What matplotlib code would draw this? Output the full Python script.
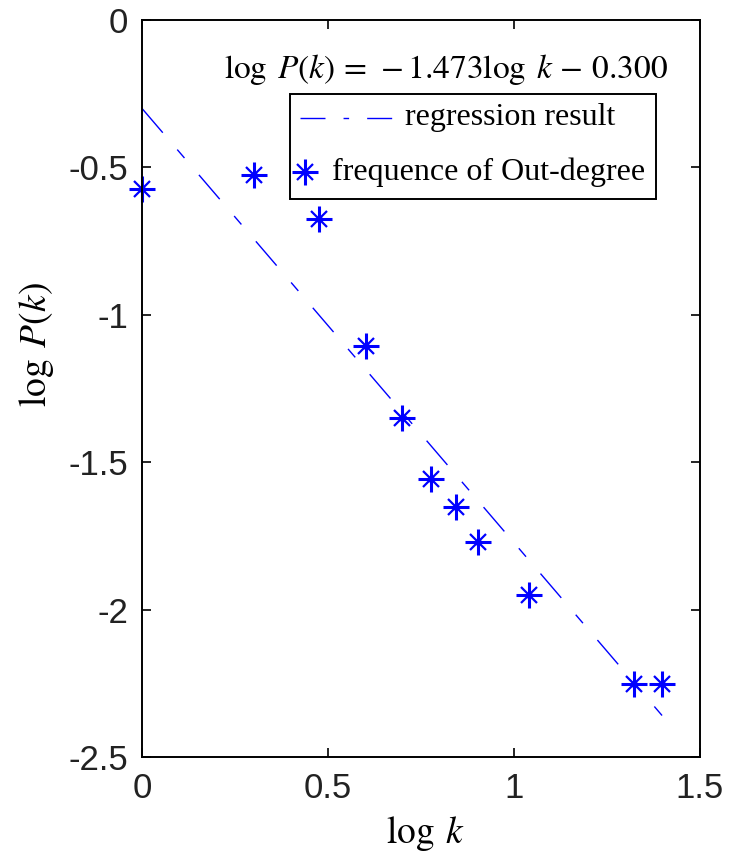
import numpy as np
import matplotlib.pyplot as plt
from matplotlib.lines import Line2D
from matplotlib.patches import Rectangle

# Data (log10 of degree k vs log10 of frequency)
log_k = [0.0, 0.301, 0.477, 0.602, 0.699, 0.778, 0.845, 0.903, 1.041, 1.322, 1.398]
log_p = [-0.574, -0.526, -0.675, -1.106, -1.350, -1.557, -1.651, -1.772, -1.950, -2.251, -2.251]

# Regression result shown in the annotation
slope = -1.473
intercept = -0.300
fit_x = np.array([0.0, 1.398])
fit_y = intercept + slope * fit_x

plt.rcParams['mathtext.fontset'] = 'stix'
plt.rcParams['lines.scale_dashes'] = False
serif = 'Liberation Serif'
W, H = 729, 860


def px(x, y):
    # pixel position (from top-left) -> figure fraction
    return x / W, 1 - y / H


fig = plt.figure(figsize=(W / 100, H / 100), dpi=100)
ax = fig.add_axes([142 / W, 1 - 757 / H, 558 / W, 737 / H])

ax.plot(fit_x, fit_y, color='blue', linewidth=1.0, dashes=(23, 16, 8, 16))
for mk, ms, mew in [('+', 19, 2.2), ('x', 11, 1.6), ('o', 5, 0)]:
    ax.plot(log_k, log_p, linestyle='none', marker=mk, color='blue',
            markersize=ms, markeredgewidth=mew, clip_on=False)

ax.set_xlim(0, 1.5)
ax.set_ylim(-2.5, 0)
ax.set_xticks([0, 0.5, 1, 1.5])
ax.set_xticklabels(['0', '0.5', '1', '1.5'])
ax.set_yticks([-2.5, -2, -1.5, -1, -0.5, 0])
ax.set_yticklabels(['-2.5', '-2', '-1.5', '-1', '-0.5', '0'])
ax.tick_params(direction='in', length=6.5, width=1.2, top=True, right=True,
               labelsize=25, labelcolor='#222222')
ax.tick_params(axis='x', pad=11)
ax.tick_params(axis='y', pad=10)
for lab in ax.get_xticklabels() + ax.get_yticklabels():
    lab.set_family('Liberation Sans')
for s in ax.spines.values():
    s.set_linewidth(1.4)

# axis labels
fig.text(*px(426, 843), r'$\log\;k$', fontsize=27, ha='center', va='baseline')
fig.text(*px(36, 345), r'$\log\;P(k)$', fontsize=27, ha='center', va='center',
         rotation=90)

# regression equation
fig.text(*px(668, 78), r'$\log\;P(k)\, =\, -1.473\log\;k\, -\, 0.300$', fontsize=24,
         ha='right', va='baseline')

# legend box, drawn by hand to follow the original layout
x0, y0 = px(290, 199)
x1, y1 = px(656, 94)
fig.patches.append(Rectangle((x0, y0), x1 - x0, y1 - y0, transform=fig.transFigure,
                             facecolor='white', edgecolor='black', linewidth=1.4,
                             zorder=5))
lx0, ly = px(300, 118)
lx1, _ = px(392, 118)
fig.lines.append(Line2D([lx0, lx1], [ly, ly], transform=fig.transFigure, color='blue',
                        linewidth=1.0, dashes=(18, 13, 4, 13), zorder=6))
fig.text(*px(405, 118), 'regression result', family=serif, fontsize=23,
         ha='left', va='center', zorder=6)
mx, my = px(305, 172)
for mk, ms, mew in [('+', 19, 2.2), ('x', 11, 1.6), ('o', 5, 0)]:
    fig.lines.append(Line2D([mx], [my], transform=fig.transFigure, linestyle='none',
                            marker=mk, color='blue', markersize=ms,
                            markeredgewidth=mew, zorder=6))
fig.text(*px(332, 172), 'frequence of Out-degree', family=serif, fontsize=23,
         ha='left', va='center', zorder=6)

fig.savefig('out.png', dpi=100, facecolor='white')
